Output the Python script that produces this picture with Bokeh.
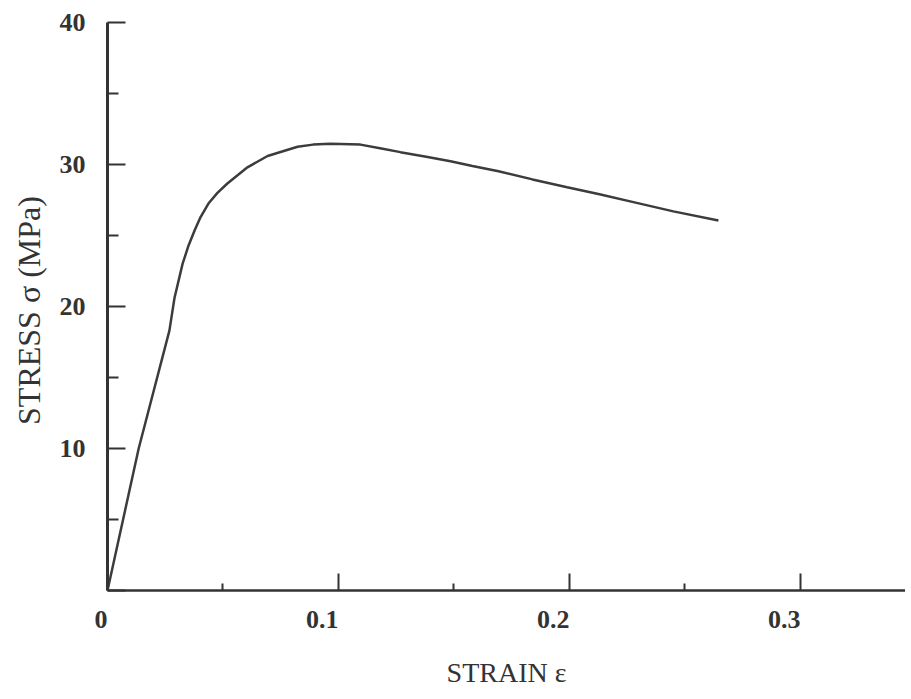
from bokeh.plotting import figure
from bokeh.models import FixedTicker, Range1d
from bokeh.embed import file_html
from bokeh.resources import INLINE

# Stress-strain curve
strain = [0, 0.0135, 0.0268, 0.0290, 0.0325, 0.0351, 0.0377, 0.0403,
          0.0437, 0.0476, 0.0519, 0.0606, 0.0693, 0.0823, 0.089, 0.0965,
          0.1095, 0.118, 0.1268, 0.138, 0.1485, 0.158, 0.1693, 0.184, 0.199,
          0.213, 0.2277, 0.245, 0.2645]
stress = [0, 10.0, 18.3, 20.6, 23.0, 24.3, 25.35, 26.3,
          27.25, 28.0, 28.66, 29.8, 30.6, 31.25, 31.4, 31.46,
          31.4, 31.15, 30.87, 30.55, 30.23, 29.9, 29.53, 28.95, 28.40,
          27.9, 27.35, 26.7, 26.06]

x_major = [0, 0.1, 0.2, 0.3]
x_minor = [0.05, 0.15, 0.25]
y_major = [0, 10, 20, 30, 40]
y_minor = [5, 15, 25, 35]

x_title = "STRAIN ε"
y_title = "STRESS σ  (MPa)"

ink = "#333333"
serif = "Liberation Serif"

p = figure(width=905, height=695, output_backend="svg", toolbar_location=None,
           x_range=Range1d(0, 0.3455), y_range=Range1d(0, 40),
           min_border_left=107, min_border_right=0, min_border_top=22,
           min_border_bottom=105)
p.outline_line_color = None
p.xgrid.visible = False
p.ygrid.visible = False
p.background_fill_color = "white"
p.border_fill_color = "white"

p.line(strain, stress, line_color="#3c3c3c", line_width=2.5)

xa = p.xaxis[0]
xa.ticker = FixedTicker(ticks=x_major, minor_ticks=x_minor)
xa.axis_line_color = ink
xa.axis_line_width = 2.5
xa.major_tick_in = 17
xa.major_tick_out = 0
xa.minor_tick_in = 7
xa.minor_tick_out = 0
xa.major_tick_line_color = ink
xa.minor_tick_line_color = ink
xa.major_tick_line_width = 2
xa.minor_tick_line_width = 2
xa.major_label_text_font = serif
xa.major_label_text_font_size = "26px"
xa.major_label_text_font_style = "bold"
xa.major_label_text_color = ink
xa.major_label_orientation = 0.0001   # near-horizontal: labels end at their tick
xa.major_label_standoff = 29
xa.axis_label = x_title
xa.axis_label_text_font = serif
xa.axis_label_text_font_size = "28px"
xa.axis_label_text_font_style = "normal"
xa.axis_label_text_color = ink
xa.axis_label_standoff = 17

ya = p.yaxis[0]
ya.ticker = FixedTicker(ticks=y_major, minor_ticks=y_minor)
ya.axis_line_color = ink
ya.axis_line_width = 3
ya.major_tick_in = 18
ya.major_tick_out = 0
ya.minor_tick_in = 11
ya.minor_tick_out = 0
ya.major_tick_line_color = ink
ya.minor_tick_line_color = ink
ya.major_tick_line_width = 2
ya.minor_tick_line_width = 2
ya.major_label_text_font = serif
ya.major_label_text_font_size = "26px"
ya.major_label_text_font_style = "bold"
ya.major_label_text_color = ink
ya.major_label_standoff = 22
ya.major_label_overrides = {0: ""}
ya.axis_label = y_title
ya.axis_label_text_font = serif
ya.axis_label_text_font_size = "32px"
ya.axis_label_text_font_style = "normal"
ya.axis_label_text_color = ink
ya.axis_label_standoff = 10

open("out.html", "w").write(file_html(p, INLINE))
